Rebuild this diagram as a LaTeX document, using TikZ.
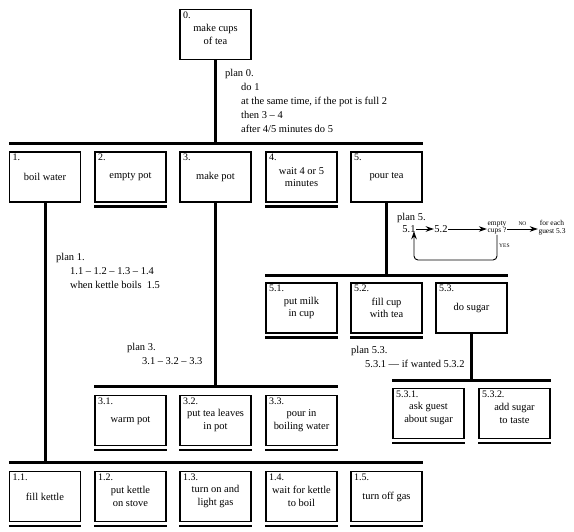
\documentclass[tikz,border=0pt]{standalone}
\usepackage{fontspec}
\setmainfont{Liberation Serif}
\usetikzlibrary{arrows.meta,calc}
\begin{document}
\begin{tikzpicture}[x=1bp,y=-1bp,
  box/.style={draw, line width=1.3bp, minimum width=71bp, minimum height=50bp, inner sep=1bp, align=center, font=\fontsize{10.5}{12.5}\selectfont},
  num/.style={anchor=north west, inner sep=0pt, font=\fontsize{10}{12}\selectfont, xshift=3.5bp, yshift=-2.5bp},
  bar/.style={line width=3bp},
  under/.style={line width=2.5bp},
  plan/.style={anchor=north west, inner sep=0pt, align=left, font=\fontsize{10.5}{14}\selectfont},
  item/.style={inner sep=0.5bp, font=\fontsize{10.5}{12}\selectfont},
  tiny/.style={inner sep=0.5bp, align=center, font=\fontsize{7.5}{7.5}\selectfont},
  tinier/.style={inner sep=0pt, font=\fontsize{5.5}{6}\selectfont},
  arr/.style={line width=0.9bp, -{Stealth[length=8bp,width=5.5bp,inset=2.5bp]}}
]
\useasboundingbox[fill=white] (0,0) rectangle (574,532);

% level 0
\node[box, label={[num,name=n0]north west:0.}] (b0) at (215.5,34.5) {make cups\\of tea};

% level 1
\node[box, label={[num,name=n1]north west:1.}] (b1) at (45,177) {boil water};
\node[box, label={[num,name=n2]north west:2.}] (b2) at (130.5,177) {empty pot};
\node[box, label={[num,name=n3]north west:3.}] (b3) at (215.5,177) {make pot};
\node[box, label={[num,name=n4]north west:4.}] (b4) at (301.5,177) {wait 4 or 5\\minutes};
\node[box, label={[num,name=n5]north west:5.}] (b5) at (386.5,177) {pour tea};

% level 5.x
\node[box, label={[num,name=n51]north west:5.1.}] (b51) at (301.5,308) {put milk\\in cup};
\node[box, label={[num,name=n52]north west:5.2.}] (b52) at (386.5,308) {fill cup\\with tea};
\node[box, label={[num,name=n53]north west:5.3.}] (b53) at (471.5,308) {do sugar};

% level 5.3.x
\node[box, label={[num,name=n531]north west:5.3.1.}] (b531) at (428.5,413.5) {ask guest\\about sugar};
\node[box, label={[num,name=n532]north west:5.3.2.}] (b532) at (514.5,413.5) {add sugar\\to taste};

% level 3.x
\node[box, label={[num,name=n31]north west:3.1.}] (b31) at (130.5,420.5) {warm pot};
\node[box, label={[num,name=n32]north west:3.2.}] (b32) at (215.5,420.5) {put tea leaves\\in pot};
\node[box, label={[num,name=n33]north west:3.3.}] (b33) at (301.5,420.5) {pour in\\boiling water};

% level 1.x
\node[box, label={[num,name=n11]north west:1.1.}] (b11) at (45,496.5) {fill kettle};
\node[box, label={[num,name=n12]north west:1.2.}] (b12) at (130.5,496.5) {put kettle\\on stove};
\node[box, label={[num,name=n13]north west:1.3.}] (b13) at (215.5,496.5) {turn on and\\light gas};
\node[box, label={[num,name=n14]north west:1.4.}] (b14) at (301.5,496.5) {wait for kettle\\to boil};
\node[box, label={[num,name=n15]north west:1.5.}] (b15) at (386.5,496.5) {turn off gas};

% bars and verticals
\coordinate (k0) at ($(b1.north west)+(0,-8)$);
\coordinate (k0e) at ($(b5.north east)+(0,-8)$);
\draw[bar] (k0) -- (k0e);
\draw[bar] (b0.south) -- (b0.south |- k0);

\coordinate (k1) at ($(b11.north west)+(0,-8)$);
\coordinate (k1e) at ($(b15.north east)+(0,-8)$);
\draw[bar] (k1) -- (k1e);
\draw[bar] (b1.south) -- (b1.south |- k1);

\coordinate (k3) at ($(b31.north west)+(0,-8.5)$);
\coordinate (k3e) at ($(b33.north east)+(0,-8.5)$);
\draw[bar] (k3) -- (k3e);
\draw[bar] (b3.south) -- (b3.south |- k3);

\coordinate (k5) at ($(b51.north west)+(0,-7)$);
\coordinate (k5e) at ($(b53.north east)+(0,-7)$);
\draw[bar] (k5) -- (k5e);
\draw[bar] (b5.south) -- (b5.south |- k5);

\coordinate (k53) at ($(b531.north west)+(0,-7)$);
\coordinate (k53e) at ($(b532.north east)+(0,-7)$);
\draw[bar] (k53) -- (k53e);
\draw[bar] (b53.south) -- (b53.south |- k53);

% leaf underlines
\foreach \b in {b2,b4,b51,b52,b531,b532,b31,b32,b33,b11,b12,b13,b14,b15}
  \draw[under] ([yshift=-4bp]\b.south west) -- ([yshift=-4bp]\b.south east);

% plans
\node[plan] (pl0) at (225,69.5) {plan 0.\\\hspace*{16bp}do 1\\\hspace*{16bp}at the same time, if the pot is full 2\\\hspace*{16bp}then 3 -- 4\\\hspace*{16bp}after 4/5 minutes do 5};
\node[plan] (pl1) at (56,253.5) {plan 1.\\\hspace*{14bp}1.1 -- 1.2 -- 1.3 -- 1.4\\\hspace*{14bp}when kettle boils\ \ 1.5};
\node[plan] (pl3) at (127,343.5) {plan 3.\\\hspace*{15bp}3.1 -- 3.2 -- 3.3};
\node[plan] (pl53) at (351,346.5) {plan 5.3.\\\hspace*{14bp}5.3.1 --- if wanted 5.3.2};
\node[plan] (pl5) at (397,213.5) {plan 5.};

% plan 5 flow
\node[item] (p51) at (409,229) {5.1};
\node[item] (p52) at (441,229) {5.2};
\node[tiny] (emp) at (497,227.5) {empty\\cups ?};
\node[tiny] (fe) at (552,227.5) {for each\\guest 5.3};
\draw[arr] (p51.east) -- (p52.west);
\draw[arr] (p52.east) -- (p52.east -| emp.west);
\draw[arr] (emp.east |- p52.east) -- node[tinier, above=2.5bp] (no) {NO} (fe.west |- p52.east);
\coordinate (lp) at (497,260);
\draw[arr, rounded corners=4bp] (emp.south) -- (lp) -| ([xshift=5bp,yshift=2bp]p51.south);
\node[tinier, anchor=west] (yes) at (499,246) {YES};
\end{tikzpicture}
\end{document}
